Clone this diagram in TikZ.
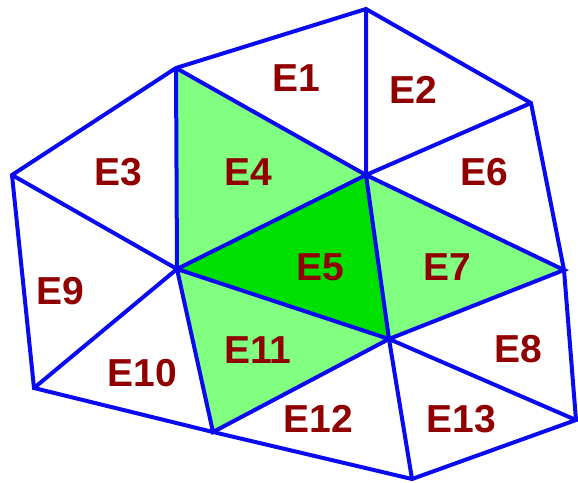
\documentclass[tikz,border=0pt]{standalone}
\usepackage{fontspec}
\setmainfont{Liberation Sans}
\usepackage{tikz}
\usetikzlibrary{calc}
\definecolor{meshblue}{RGB}{10,10,240}
\definecolor{lightgr}{RGB}{128,255,128}
\definecolor{darkgr}{RGB}{0,224,0}
\definecolor{labred}{RGB}{145,0,0}
\tikzset{
  edge/.style={draw=meshblue, line width=4pt, line join=miter},
  elab/.style={text=labred, font=\fontsize{39}{39}\selectfont\bfseries, inner sep=0pt},
  every picture/.append style={baseline=(current bounding box.center)}
}

\begin{document}
\begin{tikzpicture}[x=1pt,y=-1pt]
  \useasboundingbox (0,0) rectangle (578,482);
  % mesh vertices
  \coordinate (A) at (176,68);
  \coordinate (B) at (366,9);
  \coordinate (C) at (531,103);
  \coordinate (D) at (366,175);
  \coordinate (F) at (12,175);
  \coordinate (G) at (177,269);
  \coordinate (H) at (564,270);
  \coordinate (I) at (389,339);
  \coordinate (J) at (34,388);
  \coordinate (K) at (213,432);
  \coordinate (L) at (412,479);
  \coordinate (M) at (576,420);
  % shaded elements
  \fill[lightgr] (A) -- (D) -- (G) -- cycle;
  \fill[lightgr] (D) -- (H) -- (I) -- cycle;
  \fill[lightgr] (G) -- (I) -- (K) -- cycle;
  \fill[darkgr] (G) -- (D) -- (I) -- cycle;
  % edges
  \draw[edge] (F) -- (A) -- (B) -- (C) -- (H) -- (M) -- (L) -- (K) -- (J) -- cycle;
  \draw[edge] (A) -- (G) -- (D) -- (B);
  \draw[edge] (A) -- (D) -- (C);
  \draw[edge] (F) -- (G) -- (J);
  \draw[edge] (G) -- (K) -- (I) -- (G);
  \draw[edge] (D) -- (I) -- (H) -- (D);
  \draw[edge] (I) -- (L);
  \draw[edge] (I) -- (M);
  % element labels
  \node[elab] (e1) at (296,78) {E1};
  \node[elab] (e2) at (413,90) {E2};
  \node[elab] (e3) at (118,172) {E3};
  \node[elab] (e4) at (248,172) {E4};
  \node[elab] (e5) at (320,267) {E5};
  \node[elab] (e6) at (484,172) {E6};
  \node[elab] (e7) at (447,267) {E7};
  \node[elab] (e8) at (518,349) {E8};
  \node[elab] (e9) at (60,291) {E9};
  \node[elab] (e10) at (142,373) {E10};
  \node[elab] (e11) at (258,350) {E11};
  \node[elab] (e12) at (318,419) {E12};
  \node[elab] (e13) at (461,419) {E13};
\end{tikzpicture}
\end{document}
